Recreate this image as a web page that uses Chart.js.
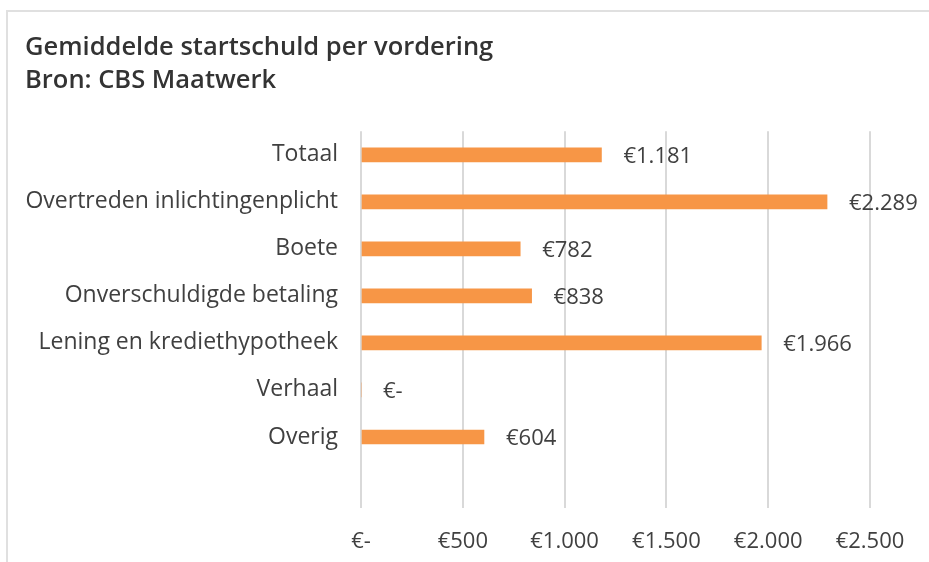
<!DOCTYPE html>
<html>
<head>
<meta charset="utf-8">
<script src="https://cdn.jsdelivr.net/npm/chart.js@4/dist/chart.umd.min.js"></script>
<style>
  html, body { margin: 0; padding: 0; background: #fff; }
  #wrap { position: relative; width: 929px; height: 562px; overflow: hidden; }
  #frame { position: absolute; left: 6px; top: 10px; width: 940px; height: 560px;
           border-left: 2px solid #e0e0e0; border-top: 2px solid #e0e0e0; }
  canvas { position: absolute; left: 0; top: 0; }
</style>
</head>
<body>
<div id="wrap">
  <div id="frame"></div>
  <canvas id="barChart" width="929" height="562"></canvas>
</div>
<script>
// categories, top to bottom (last one is the empty row Excel leaves at the bottom)
var categories = ["Totaal", "Overtreden inlichtingenplicht", "Boete", "Onverschuldigde betaling",
                  "Lening en krediethypotheek", "Verhaal", "Overig", ""];
var amounts = [1181, 2289, 782, 838, 1966, 0, 604, null];
var tickValues = [0, 500, 1000, 1500, 2000, 2500];
var titleLines = ["Gemiddelde startschuld per vordering", "Bron: CBS Maatwerk"];

function euro(v) {
    if (v === 0) return "€-";
    return "€" + String(v).replace(/\B(?=(\d{3})+(?!\d))/g, ".");
}

// value labels to the right of each bar
var valueLabels = {
    id: "valueLabels",
    afterDatasetsDraw: function(chart) {
        var ctx = chart.ctx;
        var meta = chart.getDatasetMeta(0);
        ctx.save();
        ctx.font = "22px 'Open Sans'";
        ctx.fillStyle = "#404040";
        ctx.textAlign = "left";
        ctx.textBaseline = "middle";
        meta.data.forEach(function(bar, i) {
            var v = amounts[i];
            if (v === null) return;
            ctx.fillText(euro(v), bar.x + 22, bar.y + 2);
        });
        ctx.restore();
    }
};

Chart.defaults.font.family = "'Open Sans'";
Chart.defaults.color = "#404040";

var chart = new Chart(document.getElementById("barChart"), {
    type: "bar",
    data: {
        labels: categories,
        datasets: [{
            data: amounts,
            backgroundColor: "#f79646",
            borderWidth: 0,
            barThickness: 14
        }]
    },
    options: {
        indexAxis: "y",
        responsive: false,
        animation: false,
        layout: { padding: { left: 25, right: 59, top: 0, bottom: 0 } },
        plugins: {
            legend: { display: false },
            tooltip: { enabled: false },
            title: {
                display: true,
                text: titleLines,
                align: "start",
                color: "#333333",
                font: { size: 25.5, weight: "600", lineHeight: 1.3 },
                padding: { top: 31, bottom: 34 }
            }
        },
        scales: {
            x: {
                min: 0,
                max: 2500,
                afterBuildTicks: function(scale) {
                    scale.ticks = tickValues.map(function(v) { return { value: v }; });
                },
                afterFit: function(scale) { scale.height = 54.5; },
                grid: { color: "#d9d9d9", lineWidth: 2, drawTicks: false },
                border: { display: false },
                ticks: {
                    padding: 21,
                    font: { size: 22 },
                    callback: function(v) { return euro(v); }
                }
            },
            y: {
                grid: { display: false, drawTicks: false },
                border: { display: false },
                afterFit: function(scale) { scale.width = 336; },
                ticks: { padding: 23, font: { size: 23 } }
            }
        }
    },
    plugins: [valueLabels]
});
</script>
</body>
</html>
